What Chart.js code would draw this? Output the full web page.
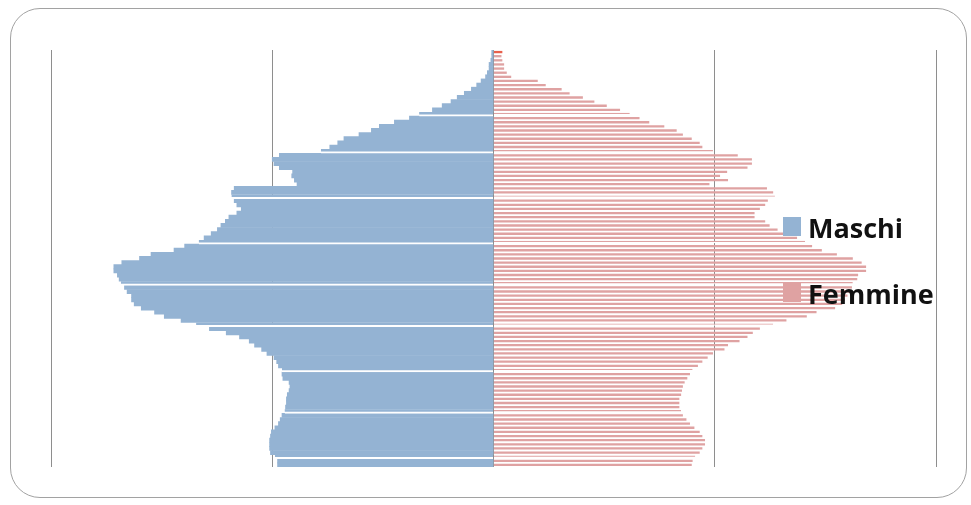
<!DOCTYPE html>
<html lang="it">
<head>
<meta charset="utf-8">
<title>Piramide delle età</title>
<script src="https://cdn.jsdelivr.net/npm/chart.js@4"></script>
<style>
  html, body { margin: 0; background: #fff; }
  #wrap { position: relative; width: 971px; height: 505px; }
  #frame {
    position: absolute; left: 10px; top: 8px; width: 957px; height: 490px;
    box-sizing: border-box; border: 1.5px solid #a2a2a2; border-radius: 30px;
  }
  #chart { position: absolute; left: 0; top: 0; }
  .legend-item {
    position: absolute; left: 783px; height: 27px;
    font: bold 27px "Open Sans", sans-serif; line-height: 27px; color: #111;
    white-space: nowrap;
  }
  .legend-item .sw {
    position: absolute; left: 0; width: 18px; height: 19px;
  }
  .legend-item .txt { position: absolute; left: 25px; top: 0; }
</style>
</head>
<body>
<div id="wrap">
  <div id="frame"></div>
  <canvas id="chart" width="971" height="505"></canvas>
  <div id="legend"></div>
</div>
<script>
// ── Data ───────────────────────────────────────────────────
// età 0..100, valori in migliaia
const ages = Array.from({ length: 101 }, (_, i) => String(i));

const maschi = [
  244, 244, 247, 252, 253, 253, 253, 252, 251, 247,
  243, 241, 239, 236, 235, 234, 234, 233, 231, 230,
  231, 238, 239, 239, 243, 245, 248, 256, 262, 270,
  276, 287, 302, 321, 336, 353, 372, 383, 398, 406,
  409, 409, 414, 417, 421, 423, 425, 429, 429, 420,
  400, 387, 361, 349, 333, 327, 319, 312, 308, 303,
  299, 290, 285, 290, 293, 296, 296, 293, 222, 225,
  228, 227, 242, 248, 250, 242, 195, 185, 176, 169,
  152, 138, 129, 112,  95,  84,  69,  58,  48,  41,
   33,  25,  19,  14,   9,   7,   5,   5,   3,   2,
    2,
];

const femmine = [
  224, 225, 228, 233, 236, 239, 239, 236, 233, 227,
  222, 218, 214, 212, 210, 210, 210, 212, 213, 214,
  216, 219, 222, 225, 231, 236, 242, 248, 261, 265,
  278, 287, 293, 301, 316, 331, 354, 365, 386, 394,
  397, 400, 403, 405, 406, 411, 412, 421, 421, 416,
  406, 388, 371, 360, 352, 343, 333, 321, 312, 307,
  295, 295, 301, 307, 310, 318, 316, 309, 244, 265,
  256, 264, 287, 292, 292, 276, 248, 236, 233, 224,
  214, 207, 193, 176, 165, 154, 143, 128, 114, 101,
   86,  77,  59,  50,  20,  15,  12,  12,  10,   9,
   10,
];

const seriesNames = ["Maschi", "Femmine"];
const xTicks = [-500, -250, 0, 250, 500];

// ── Style ──────────────────────────────────────────────────
const colors = {
  maschi:  "#94b3d3",
  femmine: "#dfa2a2",
  last:    "#e8604c",
  grid:    "#8e8e8e",
};
// fasce dove la piramide mostra una sottile riga bianca
const sepAges = ["2", "13", "23", "34", "44", "54", "65", "76", "85"];

const sepBorder = ctx =>
  sepAges.includes(ages[ctx.dataIndex]) ? { top: 0, bottom: 2, left: 0, right: 0 } : 0;

new Chart(document.getElementById("chart"), {
  type: "bar",
  data: {
    labels: ages,
    datasets: [
      {
        label: seriesNames[0],
        data: maschi.map(v => -v),
        backgroundColor: colors.maschi,
        borderColor: "#ffffff",
        borderWidth: sepBorder,
        barPercentage: 1,
        categoryPercentage: 1,
      },
      {
        label: seriesNames[1],
        data: femmine,
        backgroundColor: ctx => ctx.dataIndex === ages.length - 1 ? colors.last : colors.femmine,
        borderColor: "#ffffff",
        borderWidth: sepBorder,
        barPercentage: 0.56,
        categoryPercentage: 1,
      },
    ],
  },
  options: {
    indexAxis: "y",
    responsive: false,
    animation: false,
    events: [],
    layout: { padding: { left: 51, right: 35, top: 50, bottom: 38 } },
    plugins: { legend: { display: false }, tooltip: { enabled: false } },
    scales: {
      x: {
        stacked: true,
        min: xTicks[0],
        max: xTicks[xTicks.length - 1],
        afterBuildTicks: axis => { axis.ticks = xTicks.map(v => ({ value: v })); },
        ticks: { display: false },
        grid: { color: colors.grid, lineWidth: 1, drawTicks: false },
        border: { display: false },
      },
      y: {
        stacked: true,
        reverse: true,
        display: false,
      },
    },
  },
});

// ── Legend ─────────────────────────────────────────────────
const legendTops = [214, 280];
const legendColors = [colors.maschi, colors.femmine];
const legend = document.getElementById("legend");
seriesNames.forEach((name, i) => {
  const item = document.createElement("div");
  item.className = "legend-item";
  item.style.top = legendTops[i] + "px";
  item.innerHTML = `<span class="sw" style="background:${legendColors[i]};top:3px"></span><span class="txt">${name}</span>`;
  legend.appendChild(item);
});
</script>
</body>
</html>
